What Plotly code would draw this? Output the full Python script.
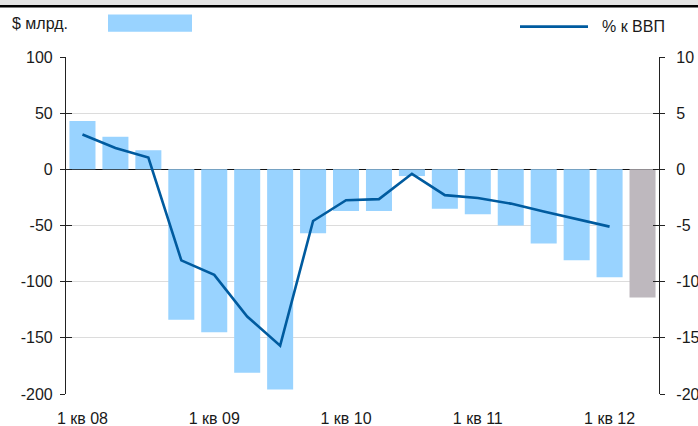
import plotly.graph_objects as go

quarters = ["1 кв 08", "2 кв 08", "3 кв 08", "4 кв 08",
            "1 кв 09", "2 кв 09", "3 кв 09", "4 кв 09",
            "1 кв 10", "2 кв 10", "3 кв 10", "4 кв 10",
            "1 кв 11", "2 кв 11", "3 кв 11", "4 кв 11",
            "1 кв 12", "2 кв 12"]
deficit_bn = [43, 29, 17, -134, -145, -181, -196, -57, -37, -37, -6, -35,
              -40, -50, -66, -81, -96, -114]
deficit_pct_gdp = [3.1, 1.9, 1.05, -8.1, -9.4, -13.1, -15.7, -4.6, -2.75, -2.65,
                   -0.4, -2.3, -2.55, -3.05, -3.75, -4.45, -5.1]
bar_colors = ["#99D3FF"] * 17 + ["#BEB8BE"]
tick_quarters = ["1 кв 08", "1 кв 09", "1 кв 10", "1 кв 11", "1 кв 12"]
left_ticks = [100, 50, 0, -50, -100, -150, -200]
left_ticktext = ["100", "50", "0", "-50", "-100", "-150", "-200"]
right_ticks = [10, 5, 0, -5, -10, -15, -20]
right_ticktext = ["10", "5", "0", "-5", "-10", "-15", "-20"]
label_bn = "$ млрд."
label_pct = "% к ВВП"

FONT = "Liberation Sans, Arial, Helvetica, sans-serif"
TXT = "#1a1a1a"
FS = 16

fig = go.Figure()
fig.add_trace(go.Bar(x=quarters, y=deficit_bn, marker_color=bar_colors,
                     marker_line_width=0, name=label_bn, yaxis="y"))
fig.add_trace(go.Scatter(x=quarters[:len(deficit_pct_gdp)], y=deficit_pct_gdp,
                         mode="lines", line=dict(color="#005B9F", width=2.6),
                         name=label_pct, yaxis="y2"))
# invisible traces so the inner-tick overlay axes are drawn
fig.add_trace(go.Scatter(x=[quarters[0]], y=[None], yaxis="y3", showlegend=False, hoverinfo="skip"))
fig.add_trace(go.Scatter(x=[quarters[0]], y=[None], yaxis="y4", showlegend=False, hoverinfo="skip"))

W, H = 698, 426
L, R, T, B = 66, 659, 57.3, 393.6

fig.update_layout(
    width=W, height=H,
    margin=dict(l=L, r=W - R, t=T, b=H - B),
    paper_bgcolor="white", plot_bgcolor="white",
    showlegend=False, bargap=0.21,
    font=dict(family=FONT, size=FS, color=TXT),
    xaxis=dict(type="category", range=[-0.5, 17.5], tickvals=tick_quarters,
               ticktext=tick_quarters, showgrid=False, showline=False, ticks="",
               zeroline=False, ticklabelstandoff=13, automargin=False,
               tickfont=dict(size=FS, color=TXT)),
    yaxis=dict(range=[-200, 100], tickvals=left_ticks, ticktext=left_ticktext,
               showgrid=True, gridcolor="#DCDCDC", gridwidth=1, zeroline=True,
               zerolinecolor="#111", zerolinewidth=1.2, showline=True,
               linecolor="#222", linewidth=1.2, ticks="outside", ticklen=5,
               tickcolor="#222", tickwidth=1.2, ticklabelstandoff=4,
               automargin=False, tickfont=dict(size=FS, color=TXT)),
    yaxis2=dict(range=[-20, 10], tickvals=right_ticks, ticktext=right_ticktext,
                overlaying="y", side="right", showgrid=False, zeroline=False,
                showline=True, linecolor="#222", linewidth=1.2, ticks="outside",
                ticklen=5, tickcolor="#222", tickwidth=1.2, ticklabelstandoff=8,
                automargin=False, tickfont=dict(size=FS, color=TXT)),
    yaxis3=dict(range=[-200, 100], tickvals=left_ticks, overlaying="y", side="left",
                showgrid=False, zeroline=False, showline=False, ticks="inside",
                ticklen=6, tickcolor="#222", tickwidth=1.2, showticklabels=False,
                automargin=False),
    yaxis4=dict(range=[-20, 10], tickvals=right_ticks, overlaying="y", side="right",
                showgrid=False, zeroline=False, showline=False, ticks="inside",
                ticklen=6, tickcolor="#222", tickwidth=1.2, showticklabels=False,
                automargin=False),
)

# paper coords are relative to the plot area
def px(x):
    return (x - L) / (R - L)

def py(y):
    return (B - y) / (B - T)

shapes = [
    dict(type="rect", xref="paper", yref="paper", x0=px(0), x1=px(W), y0=py(0), y1=py(5.5),
         fillcolor="#E4E4E4", line_width=0, layer="below"),
    dict(type="rect", xref="paper", yref="paper", x0=px(0), x1=px(W), y0=py(5.5), y1=py(8),
         fillcolor="#000000", line_width=0, layer="below"),
    dict(type="rect", xref="paper", yref="paper", x0=px(108), x1=px(192),
         y0=py(15), y1=py(32), fillcolor="#99D3FF", line_width=0),
    dict(type="line", xref="paper", yref="paper", x0=px(520), x1=px(588),
         y0=py(27), y1=py(27), line=dict(color="#005B9F", width=2.6)),
]
annotations = [
    dict(text=label_bn, xref="paper", yref="paper", x=px(10), y=py(24),
         xanchor="left", yanchor="middle", showarrow=False,
         font=dict(size=FS, color=TXT, family=FONT)),
    dict(text=label_pct, xref="paper", yref="paper", x=px(600), y=py(27),
         xanchor="left", yanchor="middle", showarrow=False,
         font=dict(size=FS, color=TXT, family=FONT)),
]
fig.update_layout(shapes=shapes, annotations=annotations)

fig.write_html("out.html", config={"displayModeBar": False},
               post_script="document.body.style.margin='0';")
